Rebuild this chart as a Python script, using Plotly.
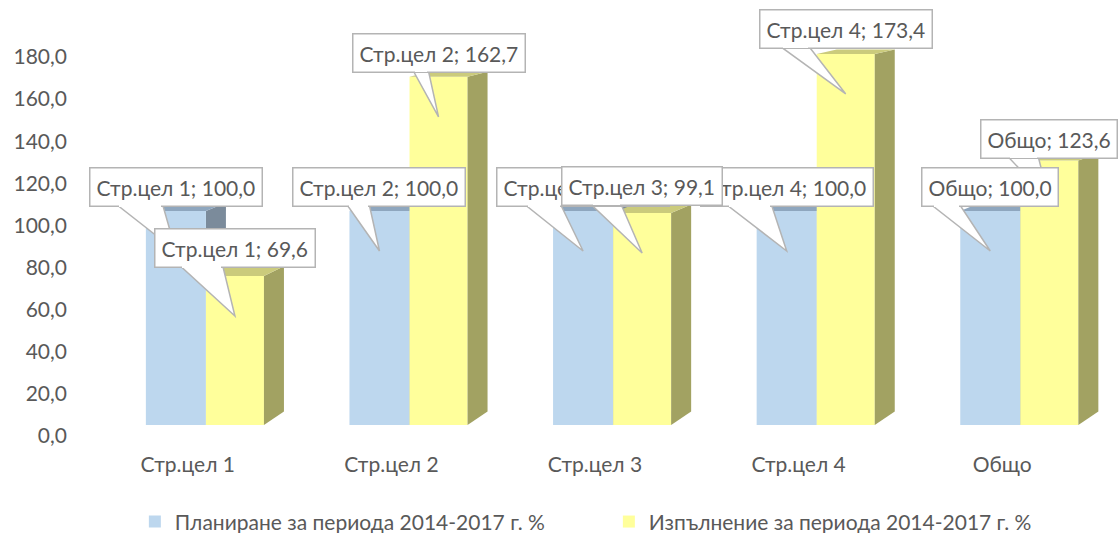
import plotly.graph_objects as go

# ---- data -------------------------------------------------------------
categories = ["Стр.цел 1", "Стр.цел 2", "Стр.цел 3", "Стр.цел 4", "Общо"]
planned = [100.0, 100.0, 100.0, 100.0, 100.0]
achieved = [69.6, 162.7, 99.1, 173.4, 123.6]
series_names = [
    "Планиране за периода 2014-2017 г. %",
    "Изпълнение за периода 2014-2017 г. %",
]
y_tick_values = [0, 20, 40, 60, 80, 100, 120, 140, 160, 180]


def fmt(v):
    return f"{v:.1f}".replace(".", ",")


# ---- geometry / style ---------------------------------------------------
W, H = 1120, 533
M_L, M_R, M_T, M_B = 86, 16, 20, 93
PLOT_W = W - M_L - M_R
PLOT_H = H - M_T - M_B
PX_PER_CAT = PLOT_W / len(categories)

# value axis of the bar faces (perspective front plane)
BAR_PX_PER_UNIT = 2.14
BAR_ZERO_PX = 15
# value axis carrying the tick labels (back wall)
LBL_PX_PER_UNIT = 2.1056
LBL_ZERO_PX = 4

FONT = "Lato, 'Noto Sans', sans-serif"
TEXT_COLOR = "#595959"
FONT_SIZE = 21

BLUE = dict(front="#BDD7EE", top="#8EA6BE", side="#7B8B9B")
YELLOW = dict(front="#FFFF9B", top="#CBCB7C", side="#A2A262")

BLUE_OFFSET, BLUE_WIDTH = -0.206, 0.295
YELLOW_OFFSET, YELLOW_WIDTH = 0.089, 0.285
DEPTH_PX = 20


def depth_dy(v):
    """vertical shift (px) of the back edge for a bar face at value v"""
    return 13.5 - 0.052 * v


dx_units = DEPTH_PX / PX_PER_CAT


def to_units(px):
    return px / BAR_PX_PER_UNIT


idx = list(range(len(categories)))

fig = go.Figure()
fig.add_trace(go.Bar(
    x=idx, y=planned, name=series_names[0],
    offset=BLUE_OFFSET, width=BLUE_WIDTH,
    marker=dict(color=BLUE["front"], line=dict(width=0)),
    hoverinfo="skip",
))
fig.add_trace(go.Bar(
    x=idx, y=achieved, name=series_names[1],
    offset=YELLOW_OFFSET, width=YELLOW_WIDTH,
    marker=dict(color=YELLOW["front"], line=dict(width=0)),
    hoverinfo="skip",
))
# carrier for the labelled value axis
fig.add_trace(go.Scatter(x=[None], y=[None], yaxis="y2", showlegend=False,
                         hoverinfo="skip"))

shapes = []


def add_faces(values, offset, width, colors, layer):
    for i, v in enumerate(values):
        xl = i + offset
        xr = xl + width
        dv = to_units(depth_dy(v))
        d0 = to_units(depth_dy(0))
        top = (f"M {xl},{v} L {xr},{v} L {xr + dx_units},{v + dv} "
               f"L {xl + dx_units},{v + dv} Z")
        side = (f"M {xr},0 L {xr},{v} L {xr + dx_units},{v + dv} "
                f"L {xr + dx_units},{d0} Z")
        for path, col in ((side, colors["side"]), (top, colors["top"])):
            shapes.append(dict(type="path", path=path, xref="x", yref="y",
                               fillcolor=col, line=dict(width=0), layer=layer))


add_faces(planned, BLUE_OFFSET, BLUE_WIDTH, BLUE, "below")
add_faces(achieved, YELLOW_OFFSET, YELLOW_WIDTH, YELLOW, "above")

# ---- data callouts --------------------------------------------------------
BORDER = "#B4B4B4"
BORDER_W = 1.5
BOX_HALF_H = 18.5
TIP_DROP = 40
# box centre above the bar top (px) and wedge base x-span relative to bar centre
blue_box_up = [24, 24, 24, 24, 24]
blue_wedge = [(-58, -13), (-32, -10), (-57, -22), (-59, -15), (-58, -30)]
yellow_box_up = [28, 24, 27, 25, 22]
yellow_wedge = [(-54, -12), (-25, -10), (-51, -21), (-64, -36), (-41, -11)]

annotations = []


def add_callouts(values, offset, width, box_up, wedge):
    for i, v in enumerate(values):
        cx = i + offset + width / 2
        base_y = box_up[i] - BOX_HALF_H
        b0, b1 = wedge[i]
        # pointer wedge from the box down into the bar
        shapes.append(dict(
            type="path", xref="x", yref="y",
            xsizemode="pixel", ysizemode="pixel", xanchor=cx, yanchor=v,
            path=f"M 0,{-TIP_DROP} L {b0},{base_y} L {b1},{base_y} Z",
            fillcolor="white", line=dict(color=BORDER, width=BORDER_W),
            layer="above",
        ))
        # label box
        annotations.append(dict(
            x=cx, y=v, xref="x", yref="y", showarrow=False,
            yshift=box_up[i], xanchor="center", yanchor="middle",
            text=f"{categories[i]}; {fmt(v)}",
            font=dict(family=FONT, size=FONT_SIZE, color=TEXT_COLOR),
            bgcolor="white", bordercolor=BORDER, borderwidth=BORDER_W,
            borderpad=6,
        ))
        # opens the box edge where the wedge joins it
        annotations.append(dict(
            x=cx, y=v, xref="x", yref="y", showarrow=False,
            xshift=(b0 + b1) / 2, yshift=base_y + 1,
            xanchor="center", yanchor="middle",
            text=" ", font=dict(size=1),
            width=max(b1 - b0 - 3, 1), height=4,
            bgcolor="white", borderwidth=0, borderpad=0,
        ))


add_callouts(planned, BLUE_OFFSET, BLUE_WIDTH, blue_box_up, blue_wedge)
add_callouts(achieved, YELLOW_OFFSET, YELLOW_WIDTH, yellow_box_up, yellow_wedge)

bar_range = [-BAR_ZERO_PX / BAR_PX_PER_UNIT,
             (PLOT_H - BAR_ZERO_PX) / BAR_PX_PER_UNIT]
lbl_range = [-LBL_ZERO_PX / LBL_PX_PER_UNIT,
             (PLOT_H - LBL_ZERO_PX) / LBL_PX_PER_UNIT]

fig.update_layout(
    width=W, height=H,
    margin=dict(l=M_L, r=M_R, t=M_T, b=M_B, autoexpand=False),
    paper_bgcolor="white", plot_bgcolor="white",
    barmode="overlay",
    font=dict(family=FONT, size=FONT_SIZE, color=TEXT_COLOR),
    xaxis=dict(
        range=[-0.5, len(categories) - 0.5],
        tickvals=idx, ticktext=categories,
        showgrid=False, zeroline=False, showline=False, ticks="",
        ticklabelstandoff=10,
        tickfont=dict(family=FONT, size=FONT_SIZE, color=TEXT_COLOR),
    ),
    yaxis=dict(range=bar_range, visible=False),
    yaxis2=dict(
        range=lbl_range, overlaying="y", side="left", anchor="x",
        tickvals=y_tick_values, ticktext=[fmt(v) for v in y_tick_values],
        showgrid=False, zeroline=False, showline=False, ticks="",
        ticklabelstandoff=18,
        tickfont=dict(family=FONT, size=FONT_SIZE, color=TEXT_COLOR),
    ),
    showlegend=True,
    legend=dict(
        orientation="h", x=0.048, xanchor="left",
        y=-0.195, yanchor="middle",
        entrywidth=429, entrywidthmode="pixels",
        font=dict(family=FONT, size=FONT_SIZE, color=TEXT_COLOR),
        itemwidth=30, traceorder="normal",
    ),
    shapes=shapes,
    annotations=annotations,
)

fig.write_html("out.html")
